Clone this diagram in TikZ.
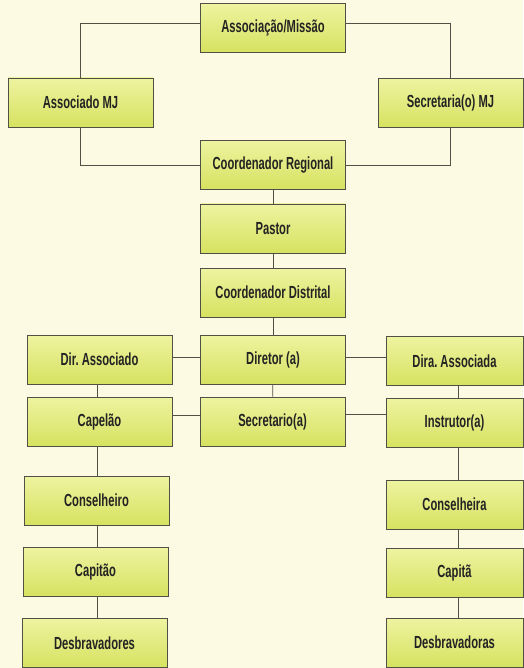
\documentclass[tikz,border=0pt]{standalone}
\usepackage{fontspec}
\setmainfont{Liberation Sans}[FakeStretch=0.64]
\usetikzlibrary{positioning}
\definecolor{bg}{RGB}{252,250,226}
\definecolor{boxtop}{RGB}{238,243,160}
\definecolor{boxbot}{RGB}{214,226,96}
\definecolor{edge}{RGB}{80,80,70}
\definecolor{txt}{RGB}{35,35,35}
\frenchspacing
\begin{document}
\begin{tikzpicture}[x=1pt,y=-1pt,
  orgbox/.style={draw=edge, line width=0.6pt, top color=boxtop, bottom color=boxbot,
    minimum width=145pt, minimum height=49pt, inner sep=0pt,
    font=\bfseries\fontsize{17.5}{20}\selectfont, text=txt},
  link/.style={draw=edge, line width=0.6pt}]
\fill[bg] (0,0) rectangle (523,668);
\useasboundingbox (0,0) rectangle (523,668);
% central column
\node[orgbox] (am)  at (273,28)  {Associação/Missão};
\node[orgbox] (amj) at (80.5,102.5) {Associado MJ};
\node[orgbox] (smj) at (450.5,103) {Secretaria(o) MJ};
\node[orgbox] (cr)  at (273,165) {Coordenador Regional};
\node[orgbox] (pa)  at (273,228.5) {Pastor};
\node[orgbox] (cd)  at (273,292.5) {Coordenador Distrital};
\node[orgbox] (di)  at (273,359.5) {Diretor (a)};
\node[orgbox] (se)  at (272.5,421.5) {Secretario(a)};
% left column
\node[orgbox] (da)  at (99.5,359.5) {Dir. Associado};
\node[orgbox] (ca)  at (99.5,421.5) {Capelão};
\node[orgbox] (co)  at (96.5,500.5) {Conselheiro};
\node[orgbox] (cp)  at (95.5,572) {Capitão};
\node[orgbox] (de)  at (94.5,643) {Desbravadores};
% right column
\node[orgbox, minimum width=137pt] (dra) at (454.5,361) {Dira. Associada};
\node[orgbox, minimum width=137pt] (in)  at (454.5,423) {Instrutor(a)};
\node[orgbox, minimum width=137pt] (cs)  at (454.5,504.5) {Conselheira};
\node[orgbox, minimum width=137pt] (cpa) at (454.5,573) {Capitã};
\node[orgbox, minimum width=137pt] (dsa) at (454.5,642.5) {Desbravadoras};
% connector helper coordinates
\coordinate (l1) at ([yshift=2.5pt]di.east);
\coordinate (l2) at ([yshift=6pt]ca.east);
\coordinate (l3) at ([yshift=7pt]se.east);
% connectors
\draw[link] ([yshift=5pt]am.west) -| (amj.north);
\draw[link] ([yshift=5pt]am.east) -| (smj.north);
\draw[link] (amj.south) |- (cr.west);
\draw[link] (smj.south) |- (cr.east);
\draw[link] (cr) -- (pa);
\draw[link] (pa) -- (cd);
\draw[link] (cd) -- (di);
\draw[link] (di) -- (se);
\draw[link] ([yshift=2.5pt]da.east) -- ([yshift=2.5pt]di.west);
\draw[link] (l1) -- (l1 -| dra.west);
\draw[link] (l2) -- (l2 -| se.west);
\draw[link] (l3) -- (l3 -| in.west);
\draw[link] (da.south -| 97,0) -- (ca.north -| 97,0);
\draw[link] (ca.south -| 97,0) -- (co.north -| 97,0);
\draw[link] (co.south -| 97,0) -- (cp.north -| 97,0);
\draw[link] (cp.south -| 97,0) -- (de.north -| 97,0);
\draw[link] (dra.south -| 458,0) -- (in.north -| 458,0);
\draw[link] (in.south -| 458,0) -- (cs.north -| 458,0);
\draw[link] (cs.south -| 458,0) -- (cpa.north -| 458,0);
\draw[link] (cpa.south -| 458,0) -- (dsa.north -| 458,0);
\end{tikzpicture}
\end{document}
